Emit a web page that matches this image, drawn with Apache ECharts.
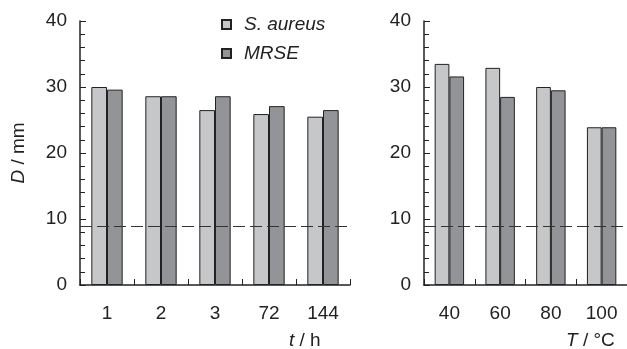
<!DOCTYPE html>
<html>
<head>
<meta charset="utf-8">
<script src="https://cdn.jsdelivr.net/npm/echarts@6/dist/echarts.min.js"></script>
<style>html,body{margin:0;padding:0;background:#fff}#c{width:627px;height:349px}</style>
</head>
<body>
<div id="c"></div>
<script>
var timeCats = ['1', '2', '3', '72', '144'];
var tempCats = ['40', '60', '80', '100'];
var saureusTime = [30.0, 28.6, 26.5, 25.9, 25.5];
var mrseTime = [29.6, 28.6, 28.6, 27.1, 26.5];
var saureusTemp = [33.5, 32.9, 30.0, 23.9];
var mrseTemp = [31.6, 28.5, 29.5, 23.9];
var thresholdD = 8.85;
var yTicks = [0, 10, 20, 30, 40];

var FONT = '"Liberation Sans", Arial, sans-serif';
var INK = '#222';
var LIGHT = '#c6c7c9';
var DARK = '#939498';

function yAxis(idx, withName) {
  var a = {
    type: 'value', gridIndex: idx, min: yTicks[0], max: yTicks[yTicks.length - 1], interval: yTicks[1] - yTicks[0],
    axisLine: {show: true, lineStyle: {color: INK, width: 1.5}},
    axisTick: {show: true, inside: true, length: 6, lineStyle: {color: INK, width: 1}},
    minorTick: {show: true, splitNumber: 5, length: 5, lineStyle: {color: INK, width: 1}},
    splitLine: {show: false},
    axisLabel: {color: INK, fontSize: 19, fontFamily: FONT, margin: 13}
  };
  if (withName) {
    a.name = '{i|D} / mm';
    a.nameLocation = 'middle';
    a.nameGap = 52;
    a.nameRotate = 90;
    a.nameTextStyle = {color: INK, fontSize: 19, fontFamily: FONT,
      rich: {i: {fontStyle: 'italic', fontSize: 19, fontFamily: FONT, color: INK}}};
  }
  return a;
}
function xAxis(idx, cats) {
  return {
    type: 'category', gridIndex: idx, data: cats,
    axisLine: {show: true, lineStyle: {color: INK, width: 1.5}},
    axisTick: {show: true, inside: true, length: 6, lineStyle: {color: INK, width: 1}},
    axisLabel: {color: INK, fontSize: 19, fontFamily: FONT, margin: 19}
  };
}
function bar(name, data, color, idx, withLine) {
  var s = {
    name: name, type: 'bar', xAxisIndex: idx, yAxisIndex: idx, data: data,
    barWidth: '29%', barGap: '0%',
    itemStyle: {color: color, borderColor: INK, borderWidth: 1},
    emphasis: {disabled: true}, animation: false
  };
  if (withLine) {
    s.markLine = {
      silent: true, symbol: 'none', label: {show: false},
      lineStyle: {color: '#333', width: 1, type: [12, 5]},
      data: [{yAxis: thresholdD}]
    };
  }
  return s;
}

var chart = echarts.init(document.getElementById('c'));
chart.setOption({
  animation: false,
  backgroundColor: '#fff',
  grid: [
    {left: 80, top: 21, width: 270, height: 264},
    {left: 424, top: 21, width: 206, height: 264}
  ],
  xAxis: [xAxis(0, timeCats), xAxis(1, tempCats)],
  yAxis: [yAxis(0, true), yAxis(1, false)],
  legend: {
    orient: 'vertical', left: 216, top: 10, itemWidth: 9, itemHeight: 9, itemGap: 10,
    icon: 'rect', selectedMode: false,
    textStyle: {color: INK, fontSize: 19, fontStyle: 'italic', fontFamily: FONT, padding: [0, 0, 0, 8]},
    data: ['S. aureus', 'MRSE']
  },
  graphic: [
    {type: 'text', left: 289, top: 331, style: {rich: {i: {fontStyle: 'italic', fontSize: 19, fontFamily: FONT, fill: INK}, n: {fontSize: 19, fontFamily: FONT, fill: INK}}, text: '{i|t}{n| / h}'}},
    {type: 'text', left: 566, top: 331, style: {rich: {i: {fontStyle: 'italic', fontSize: 19, fontFamily: FONT, fill: INK}, n: {fontSize: 19, fontFamily: FONT, fill: INK}}, text: '{i|T}{n| / °C}'}}
  ],
  series: [
    bar('S. aureus', saureusTime, LIGHT, 0, true),
    bar('MRSE', mrseTime, DARK, 0, false),
    bar('S. aureus', saureusTemp, LIGHT, 1, true),
    bar('MRSE', mrseTemp, DARK, 1, false)
  ]
});
</script>
</body>
</html>
